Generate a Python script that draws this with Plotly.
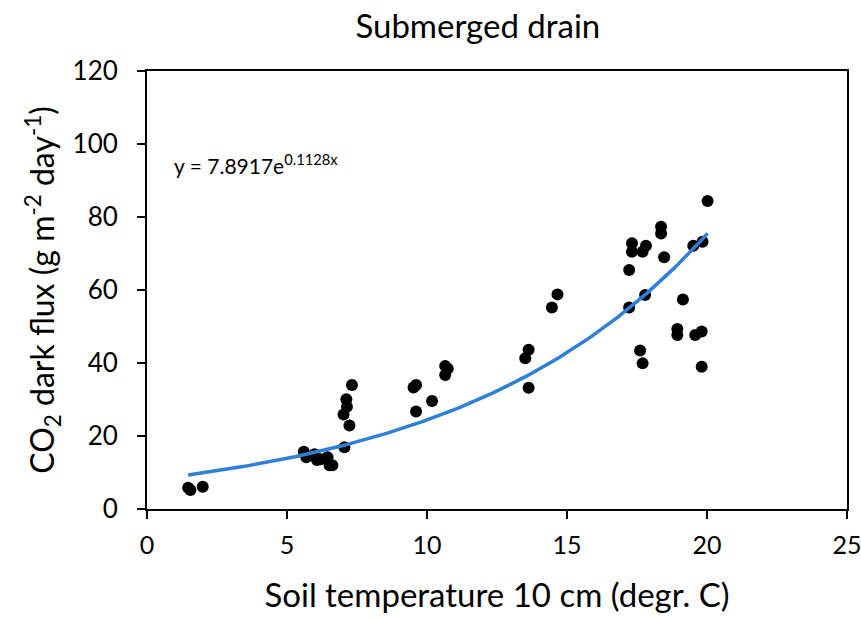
import numpy as np
import plotly.graph_objects as go

# Soil temperature at 10 cm (degr. C) and CO2 dark flux (g m-2 day-1)
soil_temp = [1.47, 1.55, 1.99, 5.60, 5.69, 5.98, 6.07, 6.20, 6.45, 6.52, 6.62,
             7.05, 7.02, 7.14, 7.12, 7.23, 7.32,
             9.52, 9.61, 9.61, 10.18, 10.65, 10.74, 10.65,
             13.51, 13.63, 13.63, 14.46, 14.66,
             20.02, 18.36, 18.36, 17.32, 17.32, 17.82, 17.70, 18.47, 17.22,
             19.51, 19.84, 17.79, 17.22, 19.14, 18.94, 18.94, 19.58, 19.81,
             17.61, 17.70, 19.81]
co2_flux = [5.8, 5.2, 6.1, 15.7, 14.2, 15.0, 13.4, 13.6, 14.2, 12.0, 12.0,
            16.9, 25.9, 28.0, 30.1, 22.9, 34.0,
            33.3, 34.0, 26.7, 29.6, 39.2, 38.4, 36.7,
            41.3, 43.6, 33.2, 55.2, 58.8,
            84.4, 77.3, 75.5, 72.8, 70.5, 72.1, 70.5, 69.0, 65.5,
            72.1, 73.2, 58.6, 55.2, 57.4, 49.3, 47.7, 47.7, 48.6,
            43.4, 39.9, 39.0]

# Exponential fit y = a * exp(b x)
fit_a = 7.8917
fit_b = 0.1128
fit_x = np.linspace(min(soil_temp), max(soil_temp), 200)
fit_y = fit_a * np.exp(fit_b * fit_x)

x_ticks = [0, 5, 10, 15, 20, 25]
y_ticks = [0, 20, 40, 60, 80, 100, 120]

FONT = "Lato"

fig = go.Figure()
fig.add_trace(go.Scatter(
    x=soil_temp, y=co2_flux, mode="markers",
    marker=dict(color="black", size=12, line=dict(width=0)),
    showlegend=False,
))
fig.add_trace(go.Scatter(
    x=fit_x, y=fit_y, mode="lines",
    line=dict(color="#2E7FD8", width=3.5),
    showlegend=False,
))

fig.add_annotation(
    x=0.9, y=94.5, xref="x", yref="y", xanchor="left", yanchor="middle",
    text=f"y = {fit_a}e<sup>{fit_b}x</sup>", showarrow=False,
    font=dict(family=FONT, size=21, color="black"),
)

fig.update_layout(
    width=861, height=618,
    margin=dict(l=147, r=14, t=71, b=109),
    paper_bgcolor="white", plot_bgcolor="white",
    title=dict(text="Submerged drain", x=0.555, xanchor="center", y=0.957, yanchor="middle",
               font=dict(family=FONT, size=33, color="black")),
    font=dict(family=FONT, color="black"),
)
fig.update_xaxes(
    range=[0, 25], tickvals=x_ticks, ticks="outside", ticklen=8, tickwidth=2,
    tickcolor="black", showline=True, linecolor="black", linewidth=2, mirror=True,
    showgrid=False, zeroline=False, tickfont=dict(family=FONT, size=25),
    ticklabelstandoff=5, ticklabeloverflow="allow", automargin=False,
    title=dict(text="Soil temperature 10 cm (degr. C)", font=dict(family=FONT, size=33), standoff=26),
)
fig.update_yaxes(
    range=[0, 120], tickvals=y_ticks, ticks="outside", ticklen=8, tickwidth=2,
    tickcolor="black", showline=True, linecolor="black", linewidth=2, mirror=True,
    showgrid=False, zeroline=False, tickfont=dict(family=FONT, size=26),
    ticklabelstandoff=14, ticklabeloverflow="allow", automargin=False,
    title=dict(text="CO<sub>2</sub> dark flux (g m<sup>-2</sup> day<sup>-1</sup>)",
               font=dict(family=FONT, size=32), standoff=8),
)

fig.write_html("out.html")
